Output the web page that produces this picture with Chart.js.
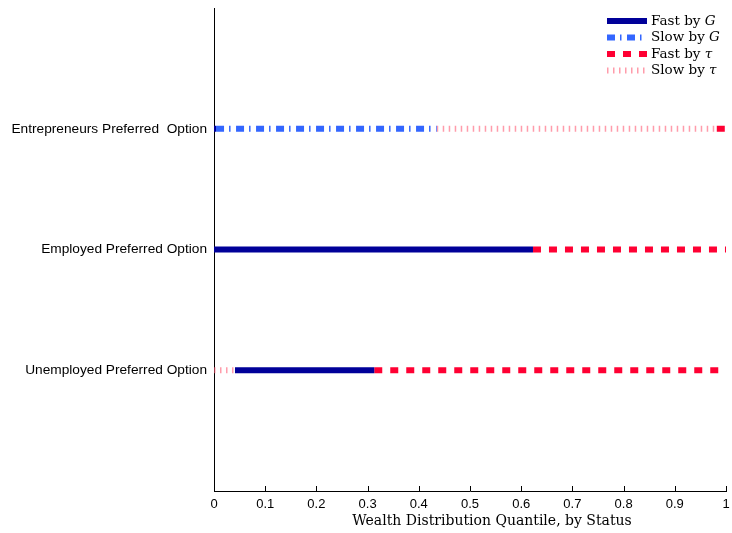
<!DOCTYPE html>
<html>
<head>
<meta charset="utf-8">
<script src="https://cdn.jsdelivr.net/npm/chart.js@4.4.1/dist/chart.umd.min.js"></script>
<style>
  html, body { margin: 0; padding: 0; background: #fff; }
  #wrap { width: 732px; height: 533px; }
</style>
</head>
<body>
<div id="wrap"><canvas id="chart" width="732" height="533"></canvas></div>
<script>
// row labels (y = 1, 2, 3)
const rowLabels = ["Unemployed Preferred Option", "Employed Preferred Option", "Entrepreneurs Preferred  Option"];
const xTicks = [0, 0.1, 0.2, 0.3, 0.4, 0.5, 0.6, 0.7, 0.8, 0.9, 1];
const xTitle = "Wealth Distribution Quantile, by Status";

// segments per series: [start quantile, end quantile, row]
const fastG = [[0, 0.004, 3], [0, 0.623, 2], [0.041, 0.313, 1]];
const slowG = [[0.004, 0.435, 3]];
const fastTau = [[0.982, 1, 3], [0.623, 1, 2], [0.313, 1, 1]];
const slowTau = [[0.435, 0.982, 3], [0, 0.041, 1]];

function toPoints(segs) {
  const pts = [];
  segs.forEach((s) => {
    pts.push({ x: s[0], y: s[2] });
    pts.push({ x: s[1], y: s[2] });
    pts.push({ x: null, y: null });
  });
  return pts;
}

const series = [
  { label: "Fast by ", sym: "G", data: fastG, color: "rgb(0,0,153)", dash: [], width: 6 },
  { label: "Slow by ", sym: "G", data: slowG, color: "rgb(51,102,255)", dash: [8, 5, 1.5, 5.5], width: 6 },
  { label: "Fast by ", sym: "τ", data: fastTau, color: "rgb(255,0,51)", dash: [8, 8], width: 6 },
  { label: "Slow by ", sym: "τ", data: slowTau, color: "rgba(255,90,115,0.6)", dash: [1.5, 4.5], width: 6 },
];

// MATLAB 風の内向き目盛り、軸タイトル、凡例
const extrasPlugin = {
  id: "extras",
  afterDraw: (chart) => {
    const ctx = chart.ctx;
    const xs = chart.scales.x;
    const area = chart.chartArea;
    ctx.save();
    ctx.strokeStyle = "#000";
    ctx.lineWidth = 1;
    xTicks.forEach((v) => {
      const px = Math.round(xs.getPixelForValue(v)) + 0.5;
      ctx.beginPath();
      ctx.moveTo(px, area.bottom);
      ctx.lineTo(px, area.bottom - 5);
      ctx.stroke();
    });

    // x title (MATLAB places it a bit right of centre)
    ctx.fillStyle = "#000";
    ctx.textAlign = "center";
    ctx.textBaseline = "middle";
    ctx.font = "14px 'DejaVu Serif'";
    ctx.fillText(xTitle, xs.getPixelForValue(0.543), 521);

    // legend
    ctx.textAlign = "left";
    const lx = 607, lw = 40;
    series.forEach((s, i) => {
      const y = 21 + i * 16.5;
      ctx.beginPath();
      ctx.setLineDash(s.dash);
      ctx.lineWidth = s.width;
      ctx.strokeStyle = s.color;
      ctx.moveTo(lx, y);
      ctx.lineTo(lx + lw, y);
      ctx.stroke();
      ctx.setLineDash([]);
      ctx.fillStyle = "#000";
      ctx.font = "13.5px 'DejaVu Serif'";
      ctx.fillText(s.label, lx + lw + 4, y);
      const w = ctx.measureText(s.label).width;
      ctx.font = "italic 13.5px 'DejaVu Serif'";
      ctx.fillText(s.sym, lx + lw + 4 + w, y);
    });
    ctx.restore();
  },
};

const ctx = document.getElementById("chart").getContext("2d");
new Chart(ctx, {
  type: "line",
  data: {
    datasets: series.map((s) => ({
      label: s.label + s.sym,
      data: toPoints(s.data),
      borderColor: s.color,
      borderDash: s.dash,
      borderWidth: s.width,
      borderCapStyle: "butt",
      pointRadius: 0,
      spanGaps: false,
      tension: 0,
    })),
  },
  options: {
    responsive: false,
    animation: false,
    layout: { padding: { top: 8, right: 6, left: 0, bottom: 0 } },
    plugins: { legend: { display: false }, tooltip: { enabled: false } },
    scales: {
      x: {
        type: "linear",
        min: 0,
        max: 1,
        afterBuildTicks: (s) => { s.ticks = xTicks.map((v) => ({ value: v })); },
        ticks: {
          color: "#000",
          font: { family: "'Liberation Sans'", size: 13 },
          padding: 6,
          maxRotation: 0,
          autoSkip: false,
          callback: (v) => String(Math.round(v * 10) / 10),
        },
        grid: { display: true, drawOnChartArea: false, drawTicks: false },
        border: { display: true, color: "#000", width: 1 },
        afterFit: (s) => {
          s.height = 42;
          s.paddingLeft = 0;
          s.paddingRight = 0;
        },
      },
      y: {
        type: "linear",
        min: 0,
        max: 4,
        afterBuildTicks: (s) => { s.ticks = [1, 2, 3].map((v) => ({ value: v })); },
        ticks: {
          color: "#000",
          font: { family: "'Liberation Sans'", size: 13.7 },
          padding: 7,
          autoSkip: false,
          callback: (v) => rowLabels[v - 1] ?? "",
        },
        grid: { display: false, drawTicks: false },
        border: { display: true, color: "#000", width: 1 },
        afterFit: (s) => {
          s.width = 214;
          s.paddingTop = 0;
          s.paddingBottom = 0;
        },
      },
    },
  },
  plugins: [extrasPlugin],
});
</script>
</body>
</html>
